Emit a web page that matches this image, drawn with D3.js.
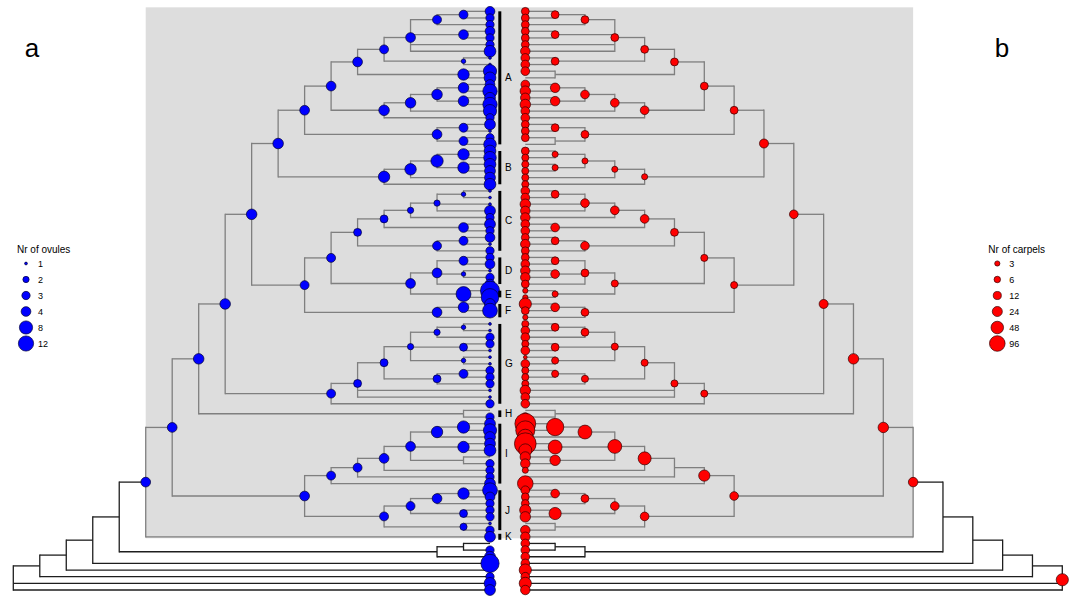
<!DOCTYPE html>
<html><head><meta charset="utf-8">
<script src="https://cdnjs.cloudflare.com/ajax/libs/d3/7.8.5/d3.min.js"></script>
<style>body{margin:0;background:#fff} svg{display:block} text{font-family:"Liberation Sans",Arial,sans-serif;fill:#000}</style>
</head><body><svg id="c" width="1077" height="596"></svg>
<script>
// ---------- DATA ----------
// topology (tips are numbered 0..87 from top to bottom)
const cladeA = "((((((0,1),2),(3,4),5,6),(7,8)),(9,10)),((((11,12),(13,14)),15),16)),((17,18),(19,20)))";
const cladeB = "((((21,22),(23,24)),25),26)";
const cladeC = "(((((27,28),29,30),31),(32,33)),((34,35),36))";
const cladeD = "((37,38),(39,40),41)";
const cladeE = "(42,43)";
const cladeF = "((44,45),46)";
const cladeG = "((((((47,48),49),(50,51),(52,53)),((54,55),56)),57,58),59)";
const cladeH = "(60,61)";
const cladeI = "((((((62,63),64),(65,66),(67,68)),69),70),71)";
const cladeJ = "((((72,73),74),(75,76)),(77,78))";
const outgroup = "((80,81),82)";

// tip values (null = missing)
const tipOvules = [4,3,3,4,3,3,6,1,1,8, 6,4,10,5,10,8,3,5,1,3, 7,6,7,6,5,5,6,1,1,1,
  5,3,5,3,4,1,3,3,4,1, 3,4,26,19,5,11,null,1,1,3, 3,1,1,1,3,3,3,1,1,3,
  null,3,5,8,5,5,6,null,3,3, 3,5,11,4,3,3,3,1,3,5, null,3,5,22,null,3,6,5];
const tipCarpels = [11,11,11,11,11,11,20,15,15,15, null,15,27,20,27,15,15,11,11,11,
  null,11,8,8,8,8,8,15,15,27, 20,20,15,15,11,20,11,11,15,20, 20,11,3,3,44,11,3,8,15,15,
  8,15,1,15,8,8,8,27,15,15, null,15,239,181,96,271,54,27,20,5, null,96,15,11,11,34,27,null,20,20,
  15,15,15,15,44,15,44,20];
// internal node values, in post-order (order in which the nodes close in the tree string)
const nodeOvules = [3.4,3.4,4,4,1.4,3.4,5.6,4,4.7,4.7, 4.7,4.7,4.7,4,3.4,3.4,4,4,5.6,5.6,
  6.7,5.6,5.6,4.7,1.4,2,2,4,2.8,3.4, 3.4,2.8,3.4,1.4,4,11.2,4,3.4,4.7,4,
  3.4,4.7,1.4,2,2.8,1.4,2,3.4,2.8,2.8, 2.8,3.4,4.7,null,4.7,6.7,5.6,5.6,null,4,
  4,3.4,3.4,5.6,4,2.8,3.4,2.4,3.4,4, 4,4,null,null,null,null,null,null,null];
const nodeCarpels = [11,11,11,11,11,11,null,11,20,20, 15,15,15,11,11,null,11,11,5,5,
  5,5,5,17,11,15,15,15,15,11, 15,11,11,15,11,5,8,8,15,11,
  8,15,11,11,11,8,8,8,8,8, 8,8,17,null,27,134,66,66,27,66,
  54,null,34,15,11,44,15,null,15,15, 27,20,null,null,null,null,null,null,44];

const cladeLabels = ["A","B","C","D","E","F","G","H","I","J","K"];
const cladeFirstTip = [0,21,27,37,42,44,47,60,62,72,79];
const cladeLastTip  = [20,26,36,41,43,46,59,61,71,78,79];
const ovuleLegend = [1,2,3,4,8,12];
const carpelLegend = [3,6,12,24,48,96];
const panelLabels = ["a","b"];

// ---------- BUILD TREE ----------
const ingroupCore = `((((((${cladeA},${cladeB}),((${cladeC},(${cladeD},${cladeE})),${cladeF})),${cladeG}),${cladeH}),(${cladeI},${cladeJ})),79)`;
const newick = `((((((${ingroupCore},${outgroup}),83),84),85),86,87)`;

function parseNewick(str){
  let i=0, nid=0;
  function node(){
    if(str[i]==='('){
      i++; const ch=[];
      while(true){
        ch.push(node());
        if(str[i]===','){i++;continue;}
        if(str[i]===')'){i++;break;}
      }
      return {children:ch, id:nid++};
    } else {
      const j=i; while(i<str.length && /[0-9]/.test(str[i])) i++;
      return {tip:+str.slice(j,i)};
    }
  }
  return node();
}

const root = d3.hierarchy(parseNewick(newick));
d3.cluster().nodeSize([1,1]).separation(()=>1)(root);
const leaves = root.leaves();
const xFirst = leaves[0].x;
root.each(d=>{ d.row = d.x - xFirst; });
const ingroupNode = root.descendants().find(d=>d.children && d.data.id===71);
const inIngroup = new Set(ingroupNode.descendants());

// ---------- SCALES ----------
const yRow = d3.scaleLinear().domain([0,87]).range([11.33,590]);
const xLeft = d3.scaleLinear().domain([0,18]).range([490,13.3]);
const xRight = d3.scaleLinear().domain([0,18]).range([525.3,1062.3]);
const rOvule = d3.scaleLog().domain([1,12]).range([1.4,7.6]);
const rCarpel = d3.scalePow().exponent(0.317).domain([0,3]).range([0,2.6]);
const rOv = v => Math.max(1.2, rOvule(v));

const svg = d3.select("#c");
const GREY = "#7f7f7f", DARK = "#1e1e1e";

// background panel behind ingroup
svg.append("rect")
  .attr("x", xLeft(ingroupNode.height)).attr("y", yRow(0)-4)
  .attr("width", xRight(ingroupNode.height)-xLeft(ingroupNode.height))
  .attr("height", yRow(79)+1.5-(yRow(0)-4))
  .attr("fill","#dddddd");

function drawTree(xs, fill, stroke, nodeVals, tipVals, rf){
  const g = svg.append("g");
  const nodes = root.descendants();
  nodes.filter(d=>d.parent).forEach(d=>{
    g.append("line")
      .attr("x1", xs(d.parent.height)).attr("x2", xs(d.height))
      .attr("y1", yRow(d.row)).attr("y2", yRow(d.row))
      .attr("stroke", (inIngroup.has(d) && d!==ingroupNode) ? GREY : DARK)
      .attr("stroke-width", 1.3);
  });
  nodes.filter(d=>d.children).forEach(d=>{
    const c = d.children;
    g.append("line")
      .attr("x1", xs(d.height)).attr("x2", xs(d.height))
      .attr("y1", yRow(c[0].row)).attr("y2", yRow(c[c.length-1].row))
      .attr("stroke", inIngroup.has(d) ? GREY : DARK)
      .attr("stroke-width", 1.3).attr("stroke-linecap","square");
  });
  nodes.filter(d=>d.children && nodeVals[d.data.id]!=null).forEach(d=>{
    g.append("circle").attr("cx", xs(d.height)).attr("cy", yRow(d.row))
      .attr("r", rf(nodeVals[d.data.id]))
      .attr("fill", fill).attr("stroke", stroke).attr("stroke-width", 0.7);
  });
  leaves.filter(d=>tipVals[d.data.tip]!=null).forEach(d=>{
    g.append("circle").attr("cx", xs(0)).attr("cy", yRow(d.row))
      .attr("r", rf(tipVals[d.data.tip]))
      .attr("fill", fill).attr("stroke", stroke).attr("stroke-width", 0.7);
  });
}

drawTree(xLeft, "#0000ff", "#000033", nodeOvules, tipOvules, rOv);
drawTree(xRight, "#ff0000", "#330000", nodeCarpels, tipCarpels, rCarpel);

cladeLabels.forEach((lab,i)=>{
  let y1 = yRow(cladeFirstTip[i]), y2 = yRow(cladeLastTip[i]);
  const mid = (y1+y2)/2;
  if (y2-y1 < 6){ y1 = mid-3; y2 = mid+3; }
  svg.append("rect").attr("x",498.3).attr("y",y1).attr("width",3).attr("height",y2-y1).attr("fill","#000");
  svg.append("text").attr("x",505).attr("y",mid).attr("dy","0.35em")
    .attr("font-size",10).text(lab);
});

svg.append("text").attr("x",32).attr("y",57).attr("text-anchor","middle").attr("font-size",26).text(panelLabels[0]);
svg.append("text").attr("x",1002).attr("y",57).attr("text-anchor","middle").attr("font-size",26).text(panelLabels[1]);

const legY = d3.scaleLinear().domain([0,5]).range([263.5,343.5]);
function legend(x0, title, vals, rf, fill, stroke){
  const g = svg.append("g");
  g.append("text").attr("x",x0-9).attr("y",249).attr("dy","0.35em").attr("font-size",10).text(title);
  vals.forEach((v,i)=>{
    g.append("circle").attr("cx",x0).attr("cy",legY(i)).attr("r",rf(v))
      .attr("fill",fill).attr("stroke",stroke).attr("stroke-width",0.7);
    g.append("text").attr("x",x0+12).attr("y",legY(i)).attr("dy","0.35em").attr("font-size",9).text(v);
  });
}
legend(26, "Nr of ovules", ovuleLegend, rOv, "#0000ff", "#000033");
legend(997.3, "Nr of carpels", carpelLegend, rCarpel, "#ff0000", "#330000");
</script></body></html>
